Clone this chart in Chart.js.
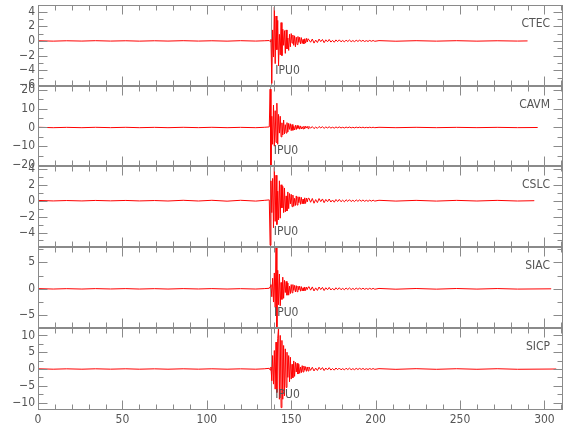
<!DOCTYPE html>
<html><head><meta charset="utf-8">
<script src="https://cdn.jsdelivr.net/npm/chart.js@4/dist/chart.umd.min.js"></script>
<style>
html,body{margin:0;padding:0;background:#fff;}
#wrap{position:relative;width:580px;height:440px;overflow:hidden;background:#fff;}
canvas{position:absolute;left:0;top:0;}
</style></head><body><div id="wrap"></div>
<script>
// ---------------- DATA ----------------
const stations = ['CTEC', 'CAVM', 'CSLC', 'SIAC', 'SICP'];
const phaseLabel = 'IPU0';
const pickTimes = [138.2, 137.3, 137.3, 137.4, 138.2];
const traceEnd = [290, 296, 294, 304, 307];

const xTicks = [0, 50, 100, 150, 200, 250, 300];
const yTicks = [
  [4, 2, 0, -2, -4, -6],
  [20, 10, 0, -10, -20],
  [4, 2, 0, -2, -4],
  [5, 0, -5],
  [10, 5, 0, -5, -10]
];
const yMinorStep = [1, 5, 1, 2.5, 2.5];
const yMin = [-6.15, -20.6, -5.82, -7.4, -12.2];
const yMax = [4.9, 22.2, 4.36, 7.9, 12.2];

// pre-event noise sample times (s)
const preTimes = [0.5, 9, 17, 26, 34, 43, 52, 60, 69, 77, 86, 95, 103, 112, 120, 129, 134];
const ctecPre = [0.02, -0.03, 0.02, -0.02, 0.03, -0.02, 0.02, -0.03, 0.02, -0.02, 0.03, -0.02, 0.02, -0.03, 0.03, -0.02, 0.02];
const cavmPre = [0.1, -0.1, 0.08, -0.1, 0.1, -0.08, 0.1, -0.1, 0.08, -0.1, 0.1, -0.08, 0.1, -0.1, 0.08, -0.1, 0.1];
const cslcPre = [0.03, -0.03, 0.02, -0.03, 0.03, -0.02, 0.03, -0.03, 0.02, -0.04, 0.05, -0.04, 0.05, -0.06, 0.05, -0.05, 0.04];
const siacPre = [0.04, -0.04, 0.03, -0.04, 0.04, -0.03, 0.04, -0.04, 0.03, -0.04, 0.04, -0.03, 0.04, -0.04, 0.03, -0.04, 0.04];
const sicpPre = [0.06, -0.06, 0.05, -0.06, 0.06, -0.05, 0.06, -0.06, 0.05, -0.06, 0.06, -0.05, 0.06, -0.06, 0.05, -0.06, 0.06];

// main burst: samples every 0.5 s from 137.0 s
const burstStart = 137.0, burstStep = 0.5;
const ctecBurst = [0.05, -0.1, 0.2, -5.8, 1.5, -2.2, 4.6, -3.1, 3.4, -1.2, 2.8, -3.4, 0.9, -1.9, 2.5, -2.0,
  1.6, -0.6, 1.4, -1.7, 1.5, -1.1, 0.4, -1.3, 0.9, -0.8, 1.0, -0.3, 0.8, -0.6, 0.7, -0.8, 0.5, -0.5,
  0.6, -0.2, 0.5, -0.4, 0.45, -0.35, 0.2, -0.4, 0.3, -0.3, 0.35, -0.15, 0.3];
const cavmBurst = [0.3, 20.5, -20.3, 6, -9, 12, -10, 9, -8, 13, -9, 7, -3, 6, -5, 2.5,
  -4, 4, -3.5, 1.5, -3, 2.6, -2.4, 2.2, -1, 2, -1.7, 1.6, -1.5, 0.6, -1.3, 1.2, -1.1, 1.1,
  -0.5, 0.9, -0.9, 0.85, -0.8, 0.4, -0.75, 0.7, -0.7, 0.65, -0.3, 0.6, -0.6];
const cslcBurst = [0.1, -5.6, 2.5, -1.5, 2.8, -3.4, 4.2, -2.6, 3.2, -3.0, 1.2, -2.4, 2.5, -2.2, 2.0, -0.9,
  1.8, -1.5, 1.6, -1.4, 0.6, -1.3, 1.1, -1.0, 0.9, -0.4, 0.8, -0.75, 0.7, -0.7, 0.3, -0.6, 0.6, -0.55,
  0.5, -0.25, 0.48, -0.45, 0.42, -0.4, 0.2, -0.38, 0.36, -0.35, 0.33, -0.15, 0.3];
const siacBurst = [0.1, 0.4, 0.8, -1.5, 2.0, -2.5, 3.0, -3.5, 7.8, -7.2, 3.5, -3.0, 2.8, -3.2, 1.2, -2.0,
  2.2, -1.8, 1.6, -0.7, 1.4, -1.2, 1.1, -1.2, 0.5, -0.9, 0.8, -0.75, 0.8, -0.3, 0.65, -0.6, 0.6, -0.55,
  0.5, -0.2, 0.5, -0.45, 0.42, -0.4, 0.2, -0.38, 0.35, -0.33, 0.32, -0.15, 0.3];
const sicpBurst = [0.2, -0.3, 0.6, -3.5, 4, -4.5, 5.5, -6, 8, -7, 9, 12.5, -9, 10, -11.5, 8.5,
  -9, 7, -8, 6, -5.5, 5, -2.5, 4, -3.8, 3.5, -3, 1.4, -2.6, 2.4, -2.2, 2, -0.9, 1.7,
  -1.5, 1.4, -1.3, 0.6, -1.1, 1, -0.9, 0.9, -0.4, 0.7, -0.7, 0.6, -0.6];

// coda tail: samples every 1.0 s from 160.5 s
const tailStart = 160.5, tailStep = 1.0;
const ctecTail = [0.3, -0.18, 0.26, -0.3, 0.12, -0.22, 0.25, -0.1, 0.2, -0.24, 0.15, -0.12, 0.2, -0.16, 0.08, -0.18, 0.14, -0.1, 0.15, -0.12,
  0.06, -0.13, 0.11, -0.08, 0.12, -0.1, 0.05, -0.1, 0.09, -0.07, 0.1, -0.06, 0.08, -0.08, 0.04, -0.07, 0.07, -0.05, 0.06, -0.05];
const cavmTail = [0.6, -0.35, 0.5, -0.6, 0.25, -0.45, 0.5, -0.2, 0.4, -0.45, 0.3, -0.25, 0.38, -0.3, 0.15, -0.34, 0.28, -0.2, 0.3, -0.24,
  0.12, -0.26, 0.22, -0.16, 0.24, -0.2, 0.1, -0.2, 0.18, -0.14, 0.18, -0.12, 0.15, -0.16, 0.08, -0.14, 0.14, -0.1, 0.12, -0.1];
const cslcTail = [0.32, -0.2, 0.28, -0.32, 0.14, -0.24, 0.27, -0.12, 0.22, -0.25, 0.16, -0.13, 0.21, -0.17, 0.09, -0.19, 0.15, -0.11, 0.16, -0.13,
  0.07, -0.14, 0.12, -0.09, 0.13, -0.11, 0.06, -0.11, 0.1, -0.08, 0.1, -0.07, 0.09, -0.08, 0.05, -0.08, 0.07, -0.06, 0.07, -0.05];
const siacTail = [0.4, -0.25, 0.36, -0.4, 0.18, -0.3, 0.34, -0.15, 0.28, -0.32, 0.2, -0.17, 0.27, -0.22, 0.11, -0.24, 0.2, -0.14, 0.21, -0.17,
  0.09, -0.18, 0.16, -0.12, 0.17, -0.14, 0.08, -0.14, 0.13, -0.1, 0.13, -0.09, 0.12, -0.1, 0.07, -0.1, 0.1, -0.08, 0.09, -0.08];
const sicpTail = [0.6, -0.4, 0.52, -0.58, 0.28, -0.44, 0.5, -0.22, 0.42, -0.46, 0.3, -0.26, 0.4, -0.32, 0.16, -0.35, 0.3, -0.2, 0.3, -0.25,
  0.13, -0.27, 0.23, -0.17, 0.25, -0.2, 0.11, -0.21, 0.19, -0.15, 0.19, -0.13, 0.16, -0.16, 0.09, -0.14, 0.14, -0.11, 0.13, -0.1];

// late noise sample times (s)
const postTimes = [202, 212, 224, 236, 248, 260, 272, 284];
const ctecPost = [0.04, -0.04, 0.03, -0.03, 0.03, -0.03, 0.02, -0.02];
const cavmPost = [0.1, -0.1, 0.09, -0.09, 0.08, -0.08, 0.08, -0.08];
const cslcPost = [0.05, -0.05, 0.04, -0.05, 0.04, -0.04, 0.04, -0.04];
const siacPost = [0.07, -0.07, 0.06, -0.06, 0.06, -0.05, 0.05, -0.05];
const sicpPost = [0.1, -0.1, 0.09, -0.09, 0.08, -0.08, 0.08, -0.08];

const preVals = [ctecPre, cavmPre, cslcPre, siacPre, sicpPre];
const burstVals = [ctecBurst, cavmBurst, cslcBurst, siacBurst, sicpBurst];
const tailVals = [ctecTail, cavmTail, cslcTail, siacTail, sicpTail];
const postVals = [ctecPost, cavmPost, cslcPost, siacPost, sicpPost];

// ---------------- LAYOUT ----------------
const W = 580, H = 440;
const panelTop = [5, 86, 166, 247, 328];
const panelBottom = [86, 166, 247, 328, 410];
const plotLeft = 38, plotRight = 563;
const FONT = "'Liberation Sans Narrow', 'DejaVu Sans Condensed', 'Liberation Sans', sans-serif";
const TXT = '#555', FRAME = '#8a8a8a';

function buildSeries(i) {
  const pts = [];
  preTimes.forEach((t, k) => pts.push({x: t, y: preVals[i][k]}));
  burstVals[i].forEach((v, k) => pts.push({x: burstStart + k * burstStep, y: v}));
  tailVals[i].forEach((v, k) => pts.push({x: tailStart + k * tailStep, y: v}));
  postTimes.forEach((t, k) => { if (t < traceEnd[i]) pts.push({x: t, y: postVals[i][k]}); });
  pts.push({x: traceEnd[i], y: 0});
  return pts;
}

function panelPlugin(i) {
  return {
    id: 'panel' + i,
    beforeDatasetsDraw(chart) {
      const ctx = chart.ctx, a = chart.chartArea, xs = chart.scales.x;
      const px = Math.round(xs.getPixelForValue(pickTimes[i])) + 0.5;
      ctx.save();
      ctx.strokeStyle = '#9a9a9a'; ctx.lineWidth = 1;
      ctx.beginPath(); ctx.moveTo(px, a.top); ctx.lineTo(px, a.bottom); ctx.stroke();
      ctx.restore();
    },
    afterDraw(chart) {
      const ctx = chart.ctx, a = chart.chartArea, xs = chart.scales.x, ys = chart.scales.y;
      const L = Math.round(a.left) + 0.5, R = Math.round(a.right) - 0.5;
      const T = Math.round(a.top) + 0.5, B = Math.round(a.bottom) - 0.5;
      ctx.save();
      ctx.strokeStyle = FRAME; ctx.lineWidth = 1;
      ctx.strokeRect(L, T, R - L, B - T);
      ctx.beginPath();
      for (let v = 0; v <= 311; v += 10) {
        const p = Math.round(xs.getPixelForValue(v)) + 0.5;
        const len = (v % 50 === 0) ? 9 : 5;
        ctx.moveTo(p, T); ctx.lineTo(p, T + len);
        ctx.moveTo(p, B); ctx.lineTo(p, B - len);
      }
      const st = yMinorStep[i];
      const majors = yTicks[i];
      for (let v = Math.ceil(yMin[i] / st) * st; v <= yMax[i] + 1e-9; v += st) {
        const p = Math.round(ys.getPixelForValue(v)) + 0.5;
        const isMajor = majors.some(m => Math.abs(m - v) < 1e-6);
        const len = isMajor ? 9 : 5;
        ctx.moveTo(L, p); ctx.lineTo(L + len, p);
        ctx.moveTo(R, p); ctx.lineTo(R - len, p);
      }
      ctx.stroke();
      ctx.fillStyle = TXT;
      ctx.font = '12px ' + FONT;
      ctx.textBaseline = 'middle';
      ctx.textAlign = 'right';
      ctx.fillText(stations[i], a.right - 13, a.top + 19);
      ctx.textAlign = 'left';
      const pk = xs.getPixelForValue(pickTimes[i]);
      ctx.fillText(phaseLabel, pk + 4, a.bottom - 15);
      ctx.restore();
    }
  };
}

const wrap = document.getElementById('wrap');
for (let i = 0; i < stations.length; i++) {
  const cv = document.createElement('canvas');
  cv.width = W; cv.height = H;
  cv.style.width = W + 'px'; cv.style.height = H + 'px';
  wrap.appendChild(cv);
  const last = i === stations.length - 1;
  const xAxisH = 22;
  new Chart(cv.getContext('2d'), {
    type: 'line',
    data: {
      datasets: [{
        label: stations[i],
        data: buildSeries(i),
        borderColor: '#ff0000',
        borderWidth: 1,
        pointRadius: 0,
        tension: 0,
        fill: false
      }]
    },
    options: {
      responsive: false,
      animation: false,
      devicePixelRatio: 1,
      events: [],
      layout: {
        padding: {
          top: panelTop[i],
          bottom: last ? (H - panelBottom[i] - xAxisH) : (H - panelBottom[i]),
          left: 0,
          right: W - plotRight
        }
      },
      plugins: { legend: { display: false }, tooltip: { enabled: false } },
      scales: {
        x: {
          type: 'linear',
          min: 0, max: 311,
          display: last,
          grid: { display: false, drawTicks: false },
          border: { display: false },
          afterBuildTicks: s => { s.ticks = xTicks.map(v => ({ value: v })); },
          afterFit: s => { s.height = last ? xAxisH : 0; s.paddingLeft = 0; s.paddingRight = 0; },
          ticks: {
            color: TXT, padding: 3, maxRotation: 0, autoSkip: false,
            font: { family: FONT, size: 12 },
            callback: v => String(v)
          }
        },
        y: {
          type: 'linear',
          min: yMin[i], max: yMax[i],
          grid: { display: false, drawTicks: false },
          border: { display: false },
          afterBuildTicks: s => { s.ticks = yTicks[i].map(v => ({ value: v })); },
          afterFit: s => { s.width = plotLeft; s.paddingTop = 0; s.paddingBottom = 0; },
          ticks: {
            color: TXT, padding: 3, autoSkip: false,
            font: { family: FONT, size: 12 },
            callback: v => String(v).replace('-', '\u2212')
          }
        }
      }
    },
    plugins: [panelPlugin(i)]
  });
}
</script>
</body></html>
